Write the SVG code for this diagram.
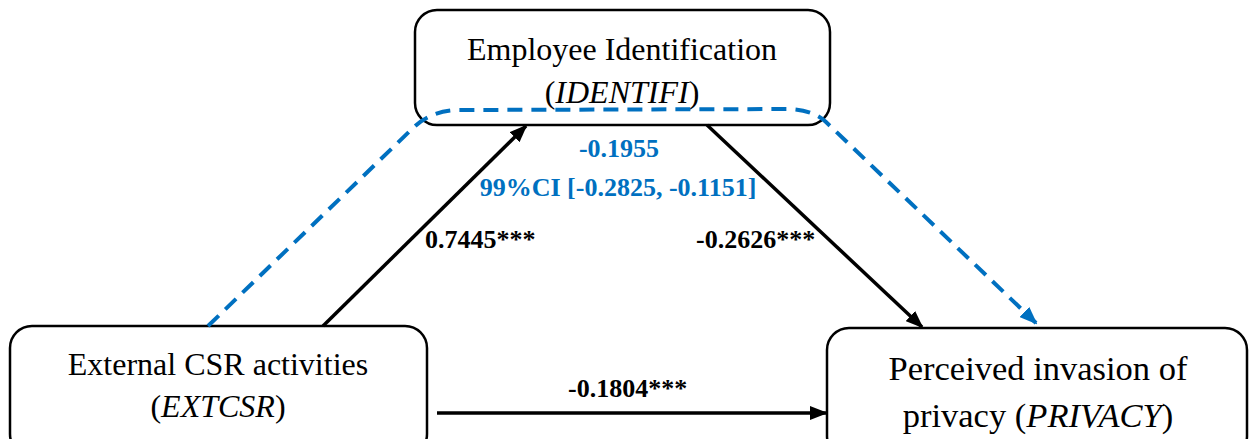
<svg xmlns="http://www.w3.org/2000/svg" width="1250" height="439" viewBox="0 0 1250 439">
  <style>
    .box { fill: #ffffff; stroke: #000000; stroke-width: 2.5; }
    .name { font-family: "Liberation Serif", "Times New Roman", serif; fill: #000000; text-anchor: middle; }
    .coef { font-family: "Liberation Serif", "Times New Roman", serif; font-weight: bold; font-size: 26px; fill: #000000; }
    .ind { font-family: "Liberation Serif", "Times New Roman", serif; font-weight: bold; font-size: 26px; fill: #0070C0; text-anchor: middle; }
    .path { fill: none; stroke: #000000; stroke-width: 3.5; }
    .indirect { fill: none; stroke: #0070C0; stroke-width: 4; stroke-dasharray: 15 9; }
  </style>
  <defs>
    <marker id="arrowBlack" markerUnits="userSpaceOnUse" markerWidth="18" markerHeight="14" refX="16" refY="7" orient="auto">
      <path d="M0,0 L18,7 L0,14 Z" fill="#000000"/>
    </marker>
    <marker id="arrowBlue" markerUnits="userSpaceOnUse" markerWidth="18" markerHeight="14" refX="16" refY="7" orient="auto">
      <path d="M0,0 L18,7 L0,14 Z" fill="#0070C0"/>
    </marker>
  </defs>
  <rect width="1250" height="439" fill="#ffffff"/>

  <!-- nodes -->
  <g id="node-identifi">
    <rect class="box" x="415" y="10" width="415" height="115" rx="22" ry="22"/>
    <text class="name" x="622" y="60" font-size="32">Employee Identification</text>
    <text class="name" x="622" y="103" font-size="32">(<tspan font-style="italic">IDENTIFI</tspan>)</text>
  </g>
  <g id="node-extcsr">
    <rect class="box" x="10" y="326" width="417" height="130" rx="22" ry="22"/>
    <text class="name" x="218" y="375" font-size="32">External CSR activities</text>
    <text class="name" x="218" y="417" font-size="32">(<tspan font-style="italic">EXTCSR</tspan>)</text>
  </g>
  <g id="node-privacy">
    <rect class="box" x="827" y="328" width="420" height="130" rx="22" ry="22"/>
    <text class="name" x="1038" y="380" font-size="34.5">Perceived invasion of</text>
    <text class="name" x="1038" y="427" font-size="34.5">privacy (<tspan font-style="italic">PRIVACY</tspan>)</text>
  </g>

  <!-- connectors -->
  <g id="connectors">
    <path class="indirect" d="M208,326 L413,128 Q430,111 458,110 L790,109 Q813,110 826,122 L1036,323" marker-end="url(#arrowBlue)"/>
    <line class="path" x1="323" y1="326" x2="526" y2="126" marker-end="url(#arrowBlack)"/>
    <line class="path" x1="707" y1="125" x2="922" y2="327" marker-end="url(#arrowBlack)"/>
    <line class="path" x1="437" y1="413" x2="826" y2="413" marker-end="url(#arrowBlack)"/>
  </g>

  <!-- path labels -->
  <g id="labels">
    <text class="ind" x="619" y="157">-0.1955</text>
    <text class="ind" x="618" y="196">99%CI [-0.2825, -0.1151]</text>
    <text class="coef" x="425" y="248">0.7445***</text>
    <text class="coef" x="696" y="248">-0.2626***</text>
    <text class="coef" x="568" y="397">-0.1804***</text>
  </g>
</svg>
